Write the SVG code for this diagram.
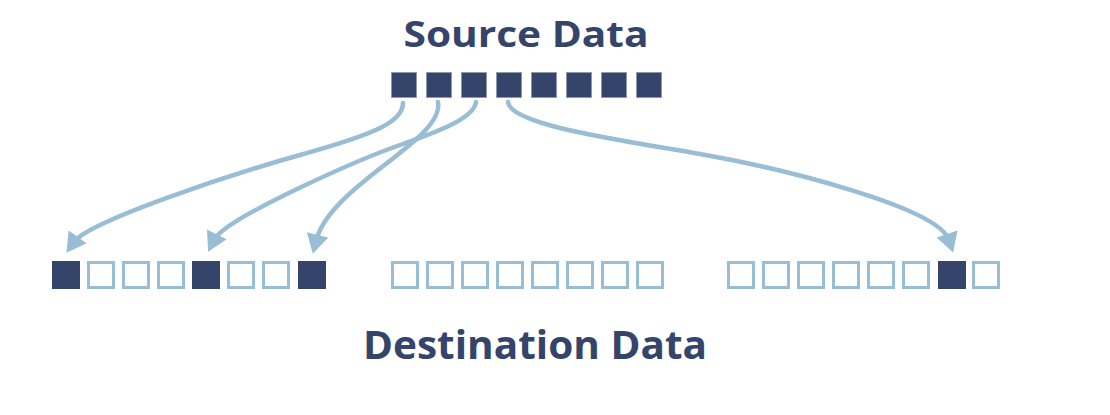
<svg xmlns="http://www.w3.org/2000/svg" width="1110" height="415" viewBox="0 0 1110 415">
<style>
.t{font-family:"Open Sans","Liberation Sans",sans-serif;font-weight:700;fill:#35446a;text-anchor:middle}
.src{fill:#35446a;stroke:#8f98ad;stroke-width:1}
.full{fill:#35446a}
.empty{fill:#fff;stroke:#98bdd4;stroke-width:3}
.arr{fill:none;stroke:#98bdd4;stroke-width:4.5;stroke-linecap:round;marker-end:url(#ah)}
</style>
<defs>
<marker id="ah" markerUnits="userSpaceOnUse" markerWidth="22" markerHeight="22" refX="6" refY="10.5" orient="auto" viewBox="0 0 19 21">
<path d="M0,0 L18.5,10.5 L0,21 z" fill="#98bdd4"/>
</marker>
</defs>
<rect width="1110" height="415" fill="#fff"/>
<g id="source-label"><text class="t" x="526" y="47" font-size="36" textLength="245" lengthAdjust="spacingAndGlyphs">Source Data</text></g>
<g id="source-data">
<rect class="src" x="391.5" y="72.5" width="25" height="25"/>
<rect class="src" x="426.5" y="72.5" width="25" height="25"/>
<rect class="src" x="461.5" y="72.5" width="25" height="25"/>
<rect class="src" x="496.5" y="72.5" width="25" height="25"/>
<rect class="src" x="531.5" y="72.5" width="25" height="25"/>
<rect class="src" x="566.5" y="72.5" width="25" height="25"/>
<rect class="src" x="601.5" y="72.5" width="25" height="25"/>
<rect class="src" x="636.5" y="72.5" width="25" height="25"/>
</g>
<g id="connectors">
<path class="arr" d="M403,103 C403,122 375,134 300,155 S 88,222 74,242"/>
<path class="arr" d="M476,102 C474,118 440,131 400,145 S 225,218 214,240"/>
<path class="arr" d="M438,102 C445,140 330,185 316,241"/>
<path class="arr" d="M508,102 C510,125 620,140 700,154 S 938,207 949,240"/>
</g>
<g id="destination-group-1">
<rect class="full" x="52" y="261" width="28" height="28"/>
<rect class="empty" x="88.5" y="262.5" width="25" height="25"/>
<rect class="empty" x="123.5" y="262.5" width="25" height="25"/>
<rect class="empty" x="158.5" y="262.5" width="25" height="25"/>
<rect class="full" x="192" y="261" width="28" height="28"/>
<rect class="empty" x="228.5" y="262.5" width="25" height="25"/>
<rect class="empty" x="263.5" y="262.5" width="25" height="25"/>
<rect class="full" x="298" y="261" width="28" height="28"/>
</g>
<g id="destination-group-2">
<rect class="empty" x="392.5" y="262.5" width="25" height="25"/>
<rect class="empty" x="427.5" y="262.5" width="25" height="25"/>
<rect class="empty" x="462.5" y="262.5" width="25" height="25"/>
<rect class="empty" x="497.5" y="262.5" width="25" height="25"/>
<rect class="empty" x="532.5" y="262.5" width="25" height="25"/>
<rect class="empty" x="567.5" y="262.5" width="25" height="25"/>
<rect class="empty" x="602.5" y="262.5" width="25" height="25"/>
<rect class="empty" x="637.5" y="262.5" width="25" height="25"/>
</g>
<g id="destination-group-3">
<rect class="empty" x="728.5" y="262.5" width="25" height="25"/>
<rect class="empty" x="763.5" y="262.5" width="25" height="25"/>
<rect class="empty" x="798.5" y="262.5" width="25" height="25"/>
<rect class="empty" x="833.5" y="262.5" width="25" height="25"/>
<rect class="empty" x="868.5" y="262.5" width="25" height="25"/>
<rect class="empty" x="903.5" y="262.5" width="25" height="25"/>
<rect class="full" x="938" y="261" width="28" height="28"/>
<rect class="empty" x="973.5" y="262.5" width="25" height="25"/>
</g>
<g id="destination-label"><text class="t" x="535" y="359" font-size="39" textLength="344" lengthAdjust="spacingAndGlyphs">Destination Data</text></g>
</svg>
